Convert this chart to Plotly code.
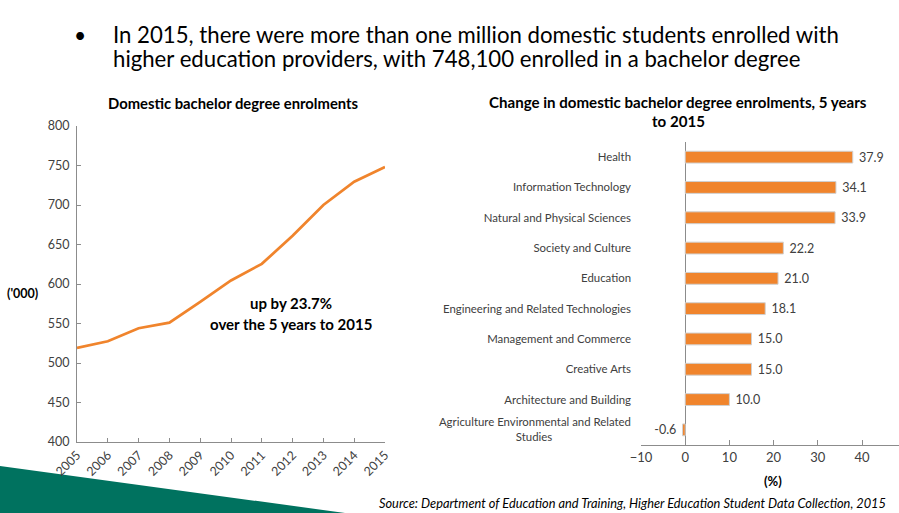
import plotly.graph_objects as go

W, H = 899, 513

years = [2005, 2006, 2007, 2008, 2009, 2010, 2011, 2012, 2013, 2014, 2015]
enrolments = [519.0, 527.5, 544.0, 551.0, 577.5, 604.5, 625.5, 661.0, 700.0, 729.5, 748.1]

fields = [
    "Health",
    "Information Technology",
    "Natural and Physical Sciences",
    "Society and Culture",
    "Education",
    "Engineering and Related Technologies",
    "Management and Commerce",
    "Creative Arts",
    "Architecture and Building",
    "Agriculture Environmental and Related<br>Studies" + "\u00a0" * 27,
]
change_pct = [37.9, 34.1, 33.9, 22.2, 21.0, 18.1, 15.0, 15.0, 10.0, -0.6]
bar_labels = ["37.9", "34.1", "33.9", "22.2", "21.0", "18.1", "15.0", "15.0", "10.0", "-0.6"]

ORANGE = "#F0842C"
FONT = "Lato"
TICKC = "#404040"
AXC = "#8C8C8C"


def px(x):
    return x / W


def py(y):
    return 1 - y / H


fig = go.Figure()

fig.add_trace(go.Scatter(
    x=years, y=enrolments, mode="lines",
    line=dict(color=ORANGE, width=2.75),
    xaxis="x", yaxis="y", showlegend=False, hoverinfo="x+y",
))

padded = [("\u00a0" + t) if v >= 0 else (t + "\u00a0") for t, v in zip(bar_labels, change_pct)]

fig.add_trace(go.Bar(
    y=fields, x=change_pct, orientation="h",
    marker=dict(color=ORANGE, line=dict(color="#D0D0D0", width=1)),
    text=padded, textposition="outside", cliponaxis=False, constraintext="none",
    textfont=dict(family=FONT, size=12.5, color=TICKC),
    xaxis="x2", yaxis="y2", showlegend=False,
))

n = len(fields)
boundaries = [i - 0.5 for i in range(n + 1)]

fig.update_layout(
    width=W, height=H,
    margin=dict(l=0, r=0, t=0, b=0),
    paper_bgcolor="white", plot_bgcolor="white",
    font=dict(family=FONT, color=TICKC),
    bargap=0.61,
    xaxis=dict(
        domain=[px(77), px(385)], range=[2005, 2015],
        tickmode="array", tickvals=years, ticktext=[str(y) for y in years],
        tickangle=-45, ticks="inside", ticklen=4, tickcolor=AXC,
        showline=True, linecolor=AXC, linewidth=1,
        showgrid=False, zeroline=False, automargin=False,
        tickfont=dict(family=FONT, size=12.5, color=TICKC),
        anchor="y", fixedrange=True,
    ),
    yaxis=dict(
        domain=[py(442), py(126)], range=[400, 800], dtick=50,
        ticks="inside", ticklen=4, tickcolor=AXC,
        showline=True, linecolor=AXC, linewidth=1,
        showgrid=False, zeroline=False, automargin=False,
        tickfont=dict(family=FONT, size=12.5, color=TICKC),
        ticklabelstandoff=4,
        anchor="x", fixedrange=True,
    ),
    xaxis2=dict(
        domain=[px(641), px(899)], range=[-10, 48.36],
        tickmode="array", tickvals=[-10, 0, 10, 20, 30, 40],
        ticks="inside", ticklen=5, tickcolor=AXC,
        showline=True, linecolor=AXC, linewidth=1,
        showgrid=False, zeroline=True, zerolinecolor=AXC, zerolinewidth=1,
        automargin=False,
        tickfont=dict(family=FONT, size=13, color=TICKC),
        anchor="y2", fixedrange=True,
    ),
    yaxis2=dict(
        domain=[py(445), py(142)],
        autorange="reversed", type="category",
        showline=False, showgrid=False, zeroline=False, ticks="",
        automargin=False, ticklabelstandoff=9,
        tickfont=dict(family=FONT, size=11.4, color=TICKC),
        anchor="x2", fixedrange=True,
    ),
    yaxis3=dict(
        overlaying="y2", anchor="free", position=px(685), side="left",
        range=[n - 0.5, -0.5], type="linear",
        tickmode="array", tickvals=boundaries,
        ticks="inside", ticklen=4, tickcolor=AXC,
        showticklabels=False, showline=True, linecolor=AXC, linewidth=1,
        showgrid=False, zeroline=False, automargin=False, fixedrange=True,
    ),
)

ann = []


def text(x, y, s, size, bold=False, italic=False, anchor="center", color="black", yanchor="middle"):
    if bold:
        s = "<b>" + s + "</b>"
    if italic:
        s = "<i>" + s + "</i>"
    ann.append(dict(
        x=px(x), y=py(y), xref="paper", yref="paper", text=s, showarrow=False,
        xanchor=anchor, yanchor=yanchor, align=anchor,
        font=dict(family=FONT, size=size, color=color),
    ))


# headline bullet text
text(72, 35, "•", 21, anchor="left")
text(111, 34, "In 2015, there were more than one million domestic students enrolled with", 22.2, anchor="left")
text(111, 58, "higher education providers, with 748,100 enrolled in a bachelor degree", 22.2, anchor="left")

# chart titles
text(233, 103, "Domestic bachelor degree enrolments", 14.8, bold=True)
text(678, 102, "Change in domestic bachelor degree enrolments, 5 years", 15.1, bold=True)
text(678, 121, "to 2015", 15.1, bold=True)

# axis titles
text(22, 293, "('000)", 12.5, bold=True)
text(773, 481, "(%)", 13, bold=True)

# annotation inside line chart
text(291, 303, "up by 23.7%", 15, bold=True)
text(291, 324, "over the 5 years to 2015", 15, bold=True)

# source
text(888, 503, "Source: Department of Education and Training, Higher Education Student Data Collection, 2015",
     12.8, italic=True, anchor="right")

fig.update_layout(annotations=ann)

# decorative green band bottom-left
fig.add_shape(
    type="path", xref="paper", yref="paper",
    path=f"M 0 {py(466)} L {px(345)} {py(513)} L 0 {py(513)} Z",
    fillcolor="#00725F", line=dict(width=0), layer="below",
)

fig.write_html(
    "out.html",
    config={"displayModeBar": False},
    post_script="document.body.style.margin='0px';document.body.style.overflow='hidden';",
)
